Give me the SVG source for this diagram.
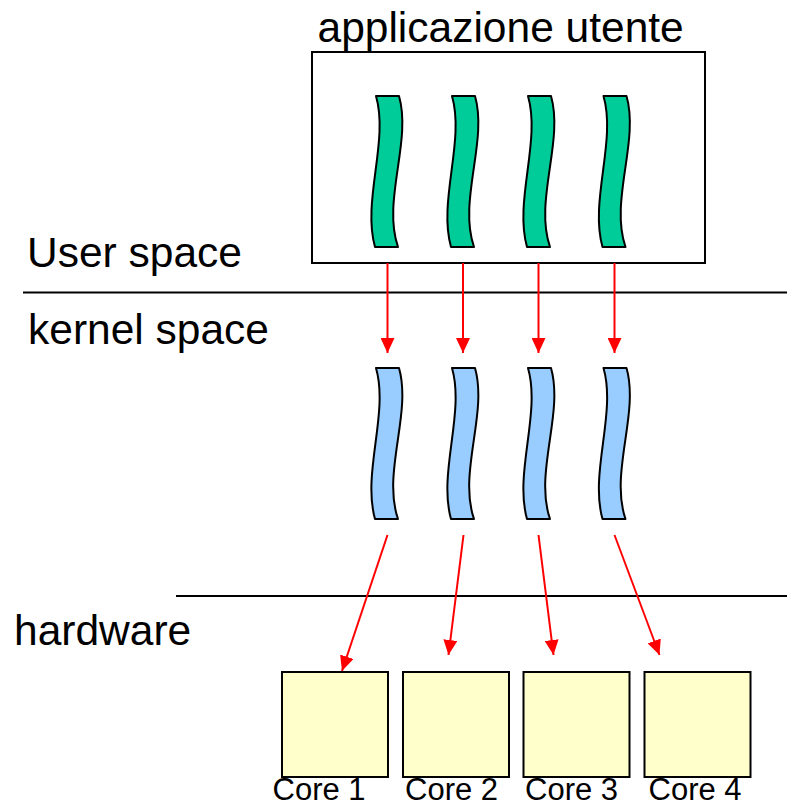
<svg xmlns="http://www.w3.org/2000/svg" width="787" height="806" viewBox="0 0 787 806">
  <style>
    .lbl { font-family: "Liberation Sans", Arial, sans-serif; fill: #000; }
    .big { font-size: 42.5px; }
    .small { font-size: 31px; }
    .sep { stroke: #000; stroke-width: 2; fill: none; }
    .thr { stroke: #000; stroke-width: 2; stroke-linejoin: round; }
    .ut { fill: #00CC99; }
    .kt { fill: #99CCFF; }
    .core { fill: #FFFFCC; stroke: #000; stroke-width: 2; }
    .arr { stroke: #FF0000; stroke-width: 2; fill: none; marker-end: url(#ah); }
  </style>
  <defs>
    <!-- wavy thread strip, origin at its top-left corner -->
    <path id="thread" d="M0,0 L23,0 C36,45 6,105 22,151 L-1,151 C-14,105 13,45 0,0 Z"/>
    <marker id="ah" viewBox="0 0 15 14" refX="15" refY="7" markerWidth="15" markerHeight="14" markerUnits="userSpaceOnUse" orient="auto">
      <path d="M0,0 L15,7 L0,14 Z" fill="#FF0000"/>
    </marker>
  </defs>

  <rect width="787" height="806" fill="#fff"/>

  <!-- layer separators and labels -->
  <g id="layers">
    <line class="sep" x1="23" y1="292.5" x2="787" y2="292.5"/>
    <line class="sep" x1="176" y1="596" x2="787" y2="596"/>
    <text class="lbl big" x="27" y="267">User space</text>
    <text class="lbl big" x="28" y="344">kernel space</text>
    <text class="lbl big" x="14" y="645">hardware</text>
  </g>

  <!-- user application with its threads -->
  <g id="app">
    <rect x="312" y="52" width="393" height="211" fill="#fff" stroke="#000" stroke-width="2"/>
    <text class="lbl big" x="317.5" y="42">applicazione utente</text>
  </g>
  <g id="uthread1"><use href="#thread" class="thr ut" x="376" y="96"/></g>
  <g id="uthread2"><use href="#thread" class="thr ut" x="452" y="96"/></g>
  <g id="uthread3"><use href="#thread" class="thr ut" x="528" y="96"/></g>
  <g id="uthread4"><use href="#thread" class="thr ut" x="603.5" y="96"/></g>

  <!-- kernel threads -->
  <g id="kthread1"><use href="#thread" class="thr kt" x="376" y="368"/></g>
  <g id="kthread2"><use href="#thread" class="thr kt" x="452" y="368"/></g>
  <g id="kthread3"><use href="#thread" class="thr kt" x="528" y="368"/></g>
  <g id="kthread4"><use href="#thread" class="thr kt" x="603.5" y="368"/></g>

  <!-- cores -->
  <g id="core1">
    <rect class="core" x="282" y="672" width="106" height="105"/>
    <text class="lbl small" x="272.5" y="799.5">Core 1</text>
  </g>
  <g id="core2">
    <rect class="core" x="403" y="672" width="106" height="105"/>
    <text class="lbl small" x="405" y="799.5">Core 2</text>
  </g>
  <g id="core3">
    <rect class="core" x="523.5" y="672" width="106" height="105"/>
    <text class="lbl small" x="525" y="799.5">Core 3</text>
  </g>
  <g id="core4">
    <rect class="core" x="644.5" y="672" width="106" height="105"/>
    <text class="lbl small" x="648.5" y="799.5">Core 4</text>
  </g>

  <!-- mappings: user thread to kernel thread, kernel thread to core -->
  <g id="connectors">
    <line class="arr" x1="387.5" y1="263" x2="387.5" y2="353"/>
    <line class="arr" x1="463" y1="263" x2="463" y2="353"/>
    <line class="arr" x1="538.5" y1="263" x2="538.5" y2="353"/>
    <line class="arr" x1="614.5" y1="263" x2="614.5" y2="353"/>
    <line class="arr" x1="387.5" y1="535" x2="342" y2="671"/>
    <line class="arr" x1="463.5" y1="535" x2="448.5" y2="655"/>
    <line class="arr" x1="538.5" y1="535" x2="553.5" y2="655"/>
    <line class="arr" x1="614.5" y1="535" x2="659.5" y2="655"/>
  </g>
</svg>
